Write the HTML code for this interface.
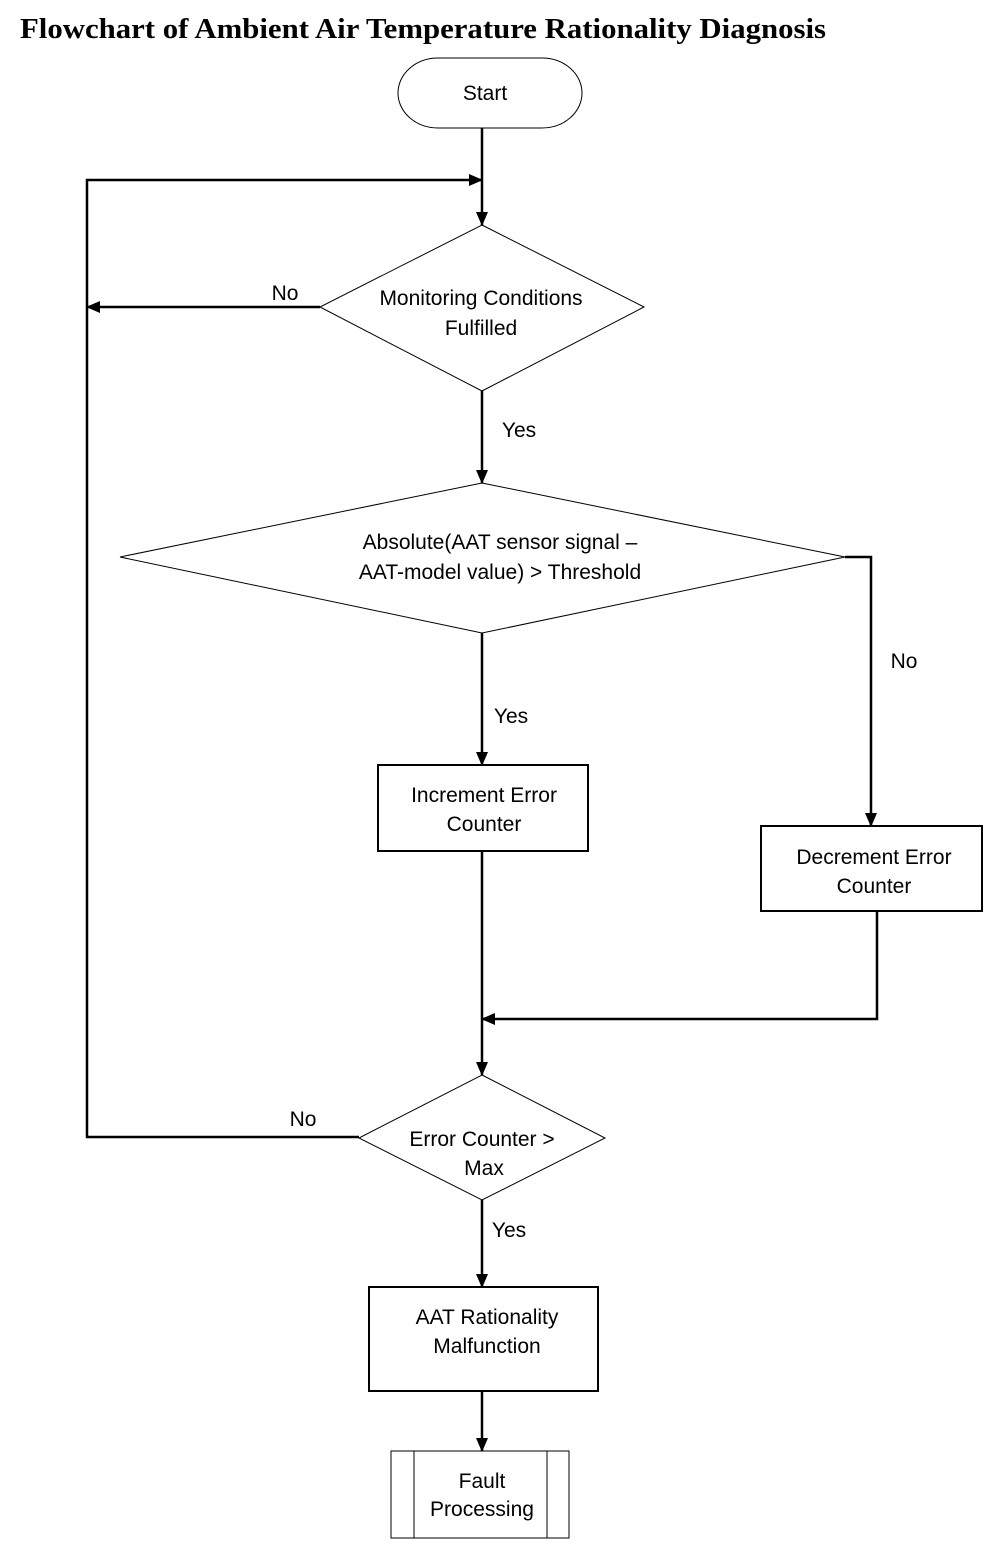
<!DOCTYPE html>
<html><head><style>
html,body{margin:0;padding:0;background:#fff;}
svg{display:block;}
.t{font-family:"Liberation Sans",Arial,sans-serif;font-size:21px;fill:#000;text-anchor:middle;}
</style></head><body>
<svg width="1008" height="1556" viewBox="0 0 1008 1556" xmlns="http://www.w3.org/2000/svg">
<defs>
<marker id="a" markerWidth="14" markerHeight="14" refX="13" refY="6" orient="auto" markerUnits="userSpaceOnUse">
<path d="M0,0 L14,6 L0,12 z" fill="#000"/>
</marker>
</defs>
<text x="20" y="38" font-family="Liberation Serif,serif" font-weight="bold" font-size="29" textLength="806" lengthAdjust="spacingAndGlyphs">Flowchart of Ambient Air Temperature Rationality Diagnosis</text>
<g fill="none" stroke="#000">
<rect x="398" y="58" width="184" height="70" rx="40" ry="35" stroke-width="1"/>
<polygon points="482,225 644,307 482,391 320,307" stroke-width="1"/>
<polygon points="482,483 845,557 482,633 120,557" stroke-width="1"/>
<polygon points="482,1075 605,1138 482,1200 359,1138" stroke-width="1"/>
<rect x="378" y="765" width="210" height="86" stroke-width="2"/>
<rect x="761" y="826" width="221" height="85" stroke-width="2"/>
<rect x="369" y="1287" width="229" height="104" stroke-width="2"/>
<rect x="391" y="1451" width="178" height="87" stroke-width="1"/>
<line x1="414" y1="1451" x2="414" y2="1538" stroke-width="1"/>
<line x1="547" y1="1451" x2="547" y2="1538" stroke-width="1"/>
<g stroke-width="2.5">
<line x1="482" y1="128" x2="482" y2="225" marker-end="url(#a)"/>
<polyline points="359,1137 87,1137 87,180 482,180" marker-end="url(#a)"/>
<line x1="320" y1="307" x2="87" y2="307" marker-end="url(#a)"/>
<line x1="482" y1="391" x2="482" y2="483" marker-end="url(#a)"/>
<polyline points="845,557 871,557 871,826" marker-end="url(#a)"/>
<line x1="482" y1="633" x2="482" y2="765" marker-end="url(#a)"/>
<line x1="482" y1="851" x2="482" y2="1075" marker-end="url(#a)"/>
<polyline points="877,911 877,1019 482,1019" marker-end="url(#a)"/>
<line x1="482" y1="1200" x2="482" y2="1287" marker-end="url(#a)"/>
<line x1="482" y1="1391" x2="482" y2="1451" marker-end="url(#a)"/>
</g>
</g>
<text class="t" x="485" y="100">Start</text>
<text class="t" x="481" y="305">Monitoring Conditions</text>
<text class="t" x="481" y="335">Fulfilled</text>
<text class="t" x="285" y="300">No</text>
<text class="t" x="519" y="437">Yes</text>
<text class="t" x="500" y="549">Absolute(AAT sensor signal –</text>
<text class="t" x="500" y="579">AAT-model value) &gt; Threshold</text>
<text class="t" x="904" y="668">No</text>
<text class="t" x="511" y="723">Yes</text>
<text class="t" x="484" y="802">Increment Error</text>
<text class="t" x="484" y="831">Counter</text>
<text class="t" x="874" y="864">Decrement Error</text>
<text class="t" x="874" y="893">Counter</text>
<text class="t" x="303" y="1126">No</text>
<text class="t" x="482" y="1146">Error Counter &gt;</text>
<text class="t" x="484" y="1175">Max</text>
<text class="t" x="509" y="1237">Yes</text>
<text class="t" x="487" y="1324">AAT Rationality</text>
<text class="t" x="487" y="1353">Malfunction</text>
<text class="t" x="482" y="1488">Fault</text>
<text class="t" x="482" y="1516">Processing</text>
</svg>
</body></html>
